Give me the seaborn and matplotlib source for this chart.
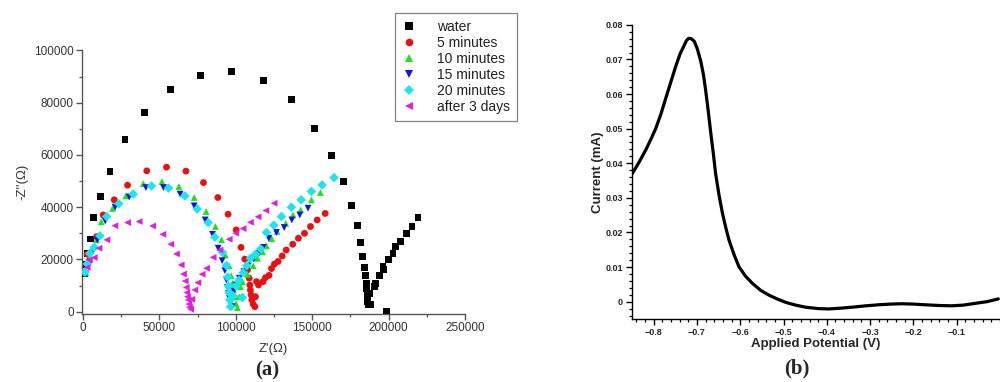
import numpy as np
import pandas as pd
import matplotlib
matplotlib.use("Agg")
import matplotlib.pyplot as plt
from matplotlib.ticker import MultipleLocator, FuncFormatter, FixedLocator
import seaborn as sns

# ---- (a) Nyquist plot data ----
series_names = ["water", "5 minutes", "10 minutes", "15 minutes", "20 minutes", "after 3 days"]

water_x = [1300, 2000, 2800, 5000, 7000, 11600, 17700, 27500, 40300, 57100, 76700, 97400,
           118400, 136400, 151700, 162600, 170400, 175500, 179400, 181600, 182900, 184000,
           184800, 185300, 185500, 185900, 186100, 186400, 186800, 188100, 187700, 190900,
           191600, 193800, 196400, 196800, 199700, 202900, 204400, 207900, 211600, 215300,
           219300, 198600]
water_y = [14400, 17900, 22300, 27800, 35900, 44100, 53800, 66000, 76100, 85100, 90400, 92000,
           88500, 81200, 70100, 59900, 49800, 40700, 32900, 26400, 21100, 17000,
           13700, 10900, 8900, 7000, 5400, 3800, 2600, 2600, 7000, 9600,
           10900, 13700, 17200, 16200, 20100, 22300, 24900, 26800, 29800, 32600,
           36000, 0]

min5_x = [2800, 4100, 8900, 13300, 20500, 29200, 41800, 54700, 67400, 78900, 88300, 95000,
          100300, 103500, 105900, 107700, 108800, 109200, 109600, 110100, 110500, 111400,
          112500, 112900, 113600, 114900, 117900, 119400, 121800, 123400, 125300, 127700,
          130400, 133000, 137300, 141000, 145000, 148900, 153300, 158500]
min5_y = [22000, 19500, 28700, 37000, 42800, 48400, 53900, 55300, 53800, 49400, 43700, 37300,
          31300, 24600, 20100, 16000, 12800, 10200, 8300, 6400, 4500, 2900,
          1900, 5700, 11500, 10200, 11500, 13000, 13900, 16500, 18200, 19200,
          21300, 23600, 25800, 28100, 30000, 32600, 35100, 37600]

min10_x = [1900, 3400, 5500, 8900, 12000, 19400, 28100, 39500, 51700, 62800, 72800, 80600,
           86700, 90700, 93100, 95700, 97000, 97900, 98600, 99300, 100100, 101100, 102200,
           103100, 104400, 107700, 111400, 114200, 117500, 120100, 123500, 127100, 132700,
           137500, 142500, 149500, 155400]
min10_y = [14900, 19100, 23500, 27500, 34400, 39500, 44300, 49000, 49800, 47900, 43700, 38300,
           32600, 27500, 21700, 17500, 13700, 10900, 8300, 5700, 3100, 1500, 5700,
           9600, 11500, 14300, 17600, 20400, 22900, 25200, 27900, 30700, 33800,
           37000, 38900, 42800, 45600]

min15_x = [2000, 3500, 5200, 9400, 14600, 21100, 30300, 41200, 52700, 63600, 72800, 80000,
           84800, 88500, 91100, 92900, 93900, 94600, 95300, 95900, 96500, 97500, 98700,
           100300, 102400, 105300, 108100, 111800, 115100, 117900, 121600, 126600, 131700,
           136700, 141900, 147300]
min15_y = [14400, 17600, 22100, 27500, 34700, 40000, 43900, 47500, 47500, 45000, 40500, 35100,
           29600, 24300, 19500, 15700, 12100, 9300, 7000, 5100, 3200, 1900, 8000,
           10200, 12800, 15300, 17600, 20200, 22300, 24600, 28100, 30300, 32200,
           35100, 37000, 39600]

min20_x = [1300, 2800, 4500, 7400, 11100, 15500, 23500, 32900, 44900, 56000, 66700, 74800,
           82000, 86300, 91300, 93900, 94800, 95300, 95700, 96100, 96600, 98300, 100200,
           102200, 104400, 104800, 107200, 109600, 112900, 116400, 120100, 124900, 129900,
           136400, 142800, 149500, 156500, 164300]
min20_y = [15100, 18300, 22300, 24600, 29000, 36400, 41300, 45000, 48100, 47300, 44300, 39300,
           34100, 28500, 22700, 17600, 13200, 9800, 7300, 4500, 1900, 6000, 9800,
           12100, 5400, 14900, 17600, 20400, 22000, 24000, 30300, 33100, 36400,
           40000, 42800, 46000, 48500, 51300]

day3_x = [2800, 4100, 7400, 10500, 15700, 20900, 29200, 36800, 45600, 52300, 57500, 61200,
          64300, 65800, 66900, 67600, 68000, 68400, 68900, 69300, 69700, 70500, 71300,
          73200, 75200, 78000, 80900, 85200, 89600, 95700, 100000, 104800, 109600, 114600,
          119700, 125100]
day3_y = [16900, 19800, 20700, 24300, 27500, 32900, 34100, 34500, 32800, 29600, 25800, 22100,
          17900, 14400, 11700, 9300, 7300, 5700, 4500, 2900, 1700, 900, 4700,
          8300, 11100, 14300, 16600, 20800, 23600, 27700, 30000, 31800, 34200, 36300,
          38700, 41500]

all_x = [water_x, min5_x, min10_x, min15_x, min20_x, day3_x]
all_y = [water_y, min5_y, min10_y, min15_y, min20_y, day3_y]

series_colors = ["#000000", "#E81010", "#1EE01E", "#1414D8", "#1EE4F0", "#E01EE0"]
series_markers = ["s", "o", "^", "v", "D", "<"]

# ---- (b) voltammogram data ----
potential = [-0.850, -0.835, -0.818, -0.805, -0.795, -0.783, -0.772, -0.760, -0.749, -0.739,
             -0.729, -0.724, -0.719, -0.713, -0.706, -0.699, -0.691, -0.685, -0.680, -0.674,
             -0.668, -0.662, -0.657, -0.649, -0.641, -0.633, -0.626, -0.614, -0.603, -0.588,
             -0.572, -0.553, -0.534, -0.515, -0.495, -0.472, -0.449, -0.420, -0.396, -0.370,
             -0.342, -0.310, -0.280, -0.253, -0.227, -0.200, -0.173, -0.142, -0.112, -0.085,
             -0.058, -0.030, -0.004]
current = [0.0369, 0.0400, 0.0439, 0.0473, 0.0501, 0.0543, 0.0588, 0.0636, 0.0680, 0.0716,
           0.0742, 0.0755, 0.0761, 0.0760, 0.0752, 0.0730, 0.0694, 0.0656, 0.0612, 0.0552,
           0.0487, 0.0427, 0.0371, 0.0308, 0.0255, 0.0212, 0.0178, 0.0135, 0.0101, 0.0074,
           0.0053, 0.0033, 0.0019, 0.0008, -0.0002, -0.0010, -0.0016, -0.0020, -0.0021, -0.0019,
           -0.0016, -0.0012, -0.0009, -0.0007, -0.0006, -0.0007, -0.0009, -0.0011, -0.0012, -0.0010,
           -0.0005, 0.0000, 0.0008]


def main():
    sns.set_theme(style="ticks")
    plt.rcParams["font.family"] = ["Liberation Sans", "DejaVu Sans"]
    plt.rcParams["axes.unicode_minus"] = True

    # long-form table for seaborn
    rows = []
    for name, xs, ys in zip(series_names, all_x, all_y):
        for x, y in zip(xs, ys):
            rows.append((name, x, y))
    nyq = pd.DataFrame(rows, columns=["series", "zre", "zim"])
    dpv = pd.DataFrame({"E": potential, "I": current})

    fig = plt.figure(figsize=(10, 3.82), dpi=100)
    fig.patch.set_facecolor("white")

    # ---------------- (a) ----------------
    ax1 = fig.add_axes([0.082, 0.178, 0.383, 0.690])
    sns.scatterplot(
        data=nyq, x="zre", y="zim", hue="series", style="series",
        hue_order=series_names, style_order=series_names,
        palette=dict(zip(series_names, series_colors)),
        markers=dict(zip(series_names, series_markers)),
        s=24, edgecolor="none", linewidth=0, legend=False, ax=ax1, zorder=3,
    )
    ax1.set_xlim(-600, 250000)
    ax1.set_ylim(-900, 100000)
    ax1.xaxis.set_major_locator(MultipleLocator(50000))
    ax1.xaxis.set_minor_locator(MultipleLocator(25000))
    ax1.yaxis.set_major_locator(MultipleLocator(20000))
    ax1.yaxis.set_minor_locator(MultipleLocator(10000))
    ax1.xaxis.set_major_formatter(FuncFormatter(lambda v, p: f"{int(v)}"))
    ax1.yaxis.set_major_formatter(FuncFormatter(lambda v, p: f"{int(v)}"))
    for s in ["top", "right"]:
        ax1.spines[s].set_visible(False)
    for s in ["left", "bottom"]:
        ax1.spines[s].set_color("#555555")
        ax1.spines[s].set_linewidth(1.0)
    ax1.tick_params(which="major", direction="out", length=4, width=1.0,
                    color="#555555", labelsize=8.5, labelcolor="#333333", pad=2)
    ax1.tick_params(which="minor", direction="out", length=2.5, width=0.9, color="#555555")
    ax1.set_xlabel("Z'(\u03a9)", fontsize=9.5, color="#333333", labelpad=6)
    ax1.set_ylabel("-Z''(\u03a9)", fontsize=9.5, color="#333333", labelpad=4)

    handles = [plt.Line2D([], [], linestyle="none", marker=m, color=c, markersize=5.5,
                          markeredgewidth=0)
               for m, c in zip(series_markers, series_colors)]
    leg = fig.legend(handles, series_names, loc="upper left",
                     bbox_to_anchor=(0.395, 0.966), frameon=True, fancybox=False,
                     fontsize=10, handlelength=1.0, handletextpad=1.5,
                     labelspacing=0.14, borderpad=0.5, borderaxespad=0)
    leg.get_frame().set_edgecolor("#666666")
    leg.get_frame().set_linewidth(0.9)
    for t in leg.get_texts():
        t.set_color("#222222")

    # ---------------- (b) ----------------
    ax2 = fig.add_axes([0.632, 0.165, 0.368, 0.770])
    sns.lineplot(data=dpv, x="E", y="I", color="black", linewidth=2.3, ax=ax2,
                 sort=False, estimator=None)
    ax2.set_xlim(-0.85, 0.0)
    ax2.set_ylim(-0.005, 0.08)
    ax2.xaxis.set_major_locator(FixedLocator([-0.8, -0.7, -0.6, -0.5, -0.4, -0.3, -0.2, -0.1]))
    ax2.xaxis.set_minor_locator(MultipleLocator(0.02))
    ax2.yaxis.set_major_locator(MultipleLocator(0.01))
    ax2.yaxis.set_minor_locator(MultipleLocator(0.002))
    ax2.xaxis.set_major_formatter(FuncFormatter(lambda v, p: f"{v:.1f}".replace("-", "\u2212")))
    ax2.yaxis.set_major_formatter(FuncFormatter(lambda v, p: "0" if abs(v) < 1e-9 else f"{v:.2f}"))
    for s in ["top", "right"]:
        ax2.spines[s].set_visible(False)
    for s in ["left", "bottom"]:
        ax2.spines[s].set_color("black")
        ax2.spines[s].set_linewidth(1.0)
    ax2.tick_params(which="major", direction="out", length=4.5, width=1.0, color="black",
                    labelsize=6.5, pad=2)
    ax2.tick_params(which="minor", direction="out", length=2.5, width=0.9, color="black")
    for lab in ax2.get_xticklabels() + ax2.get_yticklabels():
        lab.set_fontweight("bold")
    ax2.set_xlabel("Applied Potential (V)", fontsize=9.5, fontweight="bold", labelpad=1)
    ax2.set_ylabel("Current (mA)", fontsize=9.5, fontweight="bold", labelpad=1)

    # panel letters
    fig.text(0.267, 1 - 370 / 382, "(a)", ha="center", va="center",
             fontfamily="Liberation Serif", fontweight="bold", fontsize=15)
    fig.text(0.797, 1 - 368 / 382, "(b)", ha="center", va="center",
             fontfamily="Liberation Serif", fontweight="bold", fontsize=15)

    fig.savefig("out.png", dpi=100, facecolor="white")
    plt.close(fig)


if __name__ == "__main__":
    main()
